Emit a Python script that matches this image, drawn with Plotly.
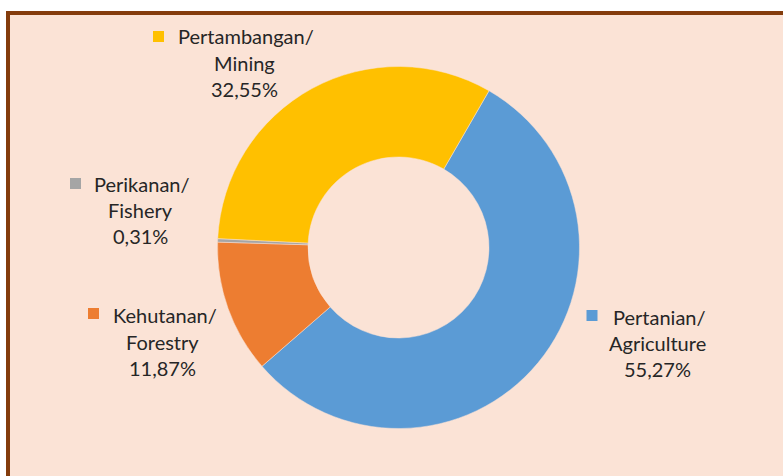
import plotly.graph_objects as go

# ---- data ----
categories = ["Pertanian/ Agriculture", "Kehutanan/ Forestry", "Perikanan/ Fishery", "Pertambangan/ Mining"]
name_id = ["Pertanian/", "Kehutanan/", "Perikanan/", "Pertambangan/"]
name_en = ["Agriculture", "Forestry", "Fishery", "Mining"]
values = [55.27, 11.87, 0.31, 32.55]
colors = ["#5B9BD5", "#ED7D31", "#A5A5A5", "#FFC000"]

W, H = 783, 476
def px(x): return x / W
def py(y): return 1 - y / H

fig = go.Figure()
fig.add_trace(go.Pie(
    labels=categories, values=values, sort=False, direction="clockwise",
    rotation=30, hole=0.5, textinfo="none", showlegend=False,
    marker=dict(colors=colors, line=dict(color="#FBE3D6", width=0.5)),
    domain=dict(x=[px(217.5), px(579.5)], y=[py(428.5), py(66.5)]),
))

# label layout (pixel positions): square box, first-line left x, first-line y, center x, line2 y, line3 y
label_pos = [
    dict(sq=(586.5, 310, 597.5, 321), x1=611, y1=317, cx=657, y2=343, y3=369),
    dict(sq=(88, 308, 99, 319), x1=111, y1=315, cx=162, y2=342, y3=368),
    dict(sq=(70, 178, 81, 189), x1=92, y1=184, cx=140, y2=210, y3=236),
    dict(sq=(153, 31, 164, 42), x1=176, y1=36, cx=244, y2=63, y3=89),
]

font = dict(family="Lato, 'Open Sans', sans-serif", size=20, color="#262626")
shapes = [
    # white outer margin and brown frame
    dict(type="rect", xref="paper", yref="paper", x0=0, x1=1, y0=py(12.5), y1=1,
         fillcolor="white", line=dict(width=0), layer="above"),
    dict(type="rect", xref="paper", yref="paper", x0=0, x1=px(6), y0=0, y1=1,
         fillcolor="white", line=dict(width=0), layer="above"),
    dict(type="line", xref="paper", yref="paper", x0=px(8), x1=1.01, y0=py(13), y1=py(13),
         line=dict(color="#843C0C", width=4), layer="above"),
    dict(type="line", xref="paper", yref="paper", x0=px(8), x1=px(8), y0=-0.01, y1=py(11),
         line=dict(color="#843C0C", width=4), layer="above"),
]
annotations = []
for i in range(len(values)):
    p = label_pos[i]
    x0, y0, x1, y1 = p["sq"]
    shapes.append(dict(type="rect", xref="paper", yref="paper",
                       x0=px(x0), x1=px(x1), y0=py(y1), y1=py(y0),
                       fillcolor=colors[i], line=dict(width=0)))
    pct = f"{values[i]:.2f}".replace(".", ",") + "%"
    annotations.append(dict(text=name_id[i], x=px(p["x1"]), y=py(p["y1"]), xref="paper", yref="paper",
                            xanchor="left", yanchor="middle", showarrow=False, font=font))
    annotations.append(dict(text=name_en[i], x=px(p["cx"]), y=py(p["y2"]), xref="paper", yref="paper",
                            xanchor="center", yanchor="middle", showarrow=False, font=font))
    annotations.append(dict(text=pct, x=px(p["cx"]), y=py(p["y3"]), xref="paper", yref="paper",
                            xanchor="center", yanchor="middle", showarrow=False, font=font))

fig.update_layout(
    width=W, height=H, margin=dict(l=0, r=0, t=0, b=0),
    paper_bgcolor="#FBE3D6", plot_bgcolor="#FBE3D6",
    shapes=shapes, annotations=annotations,
)
fig.write_html("out.html", config={"displayModeBar": False},
               post_script="document.body.style.margin='0';document.body.style.overflow='hidden';")
